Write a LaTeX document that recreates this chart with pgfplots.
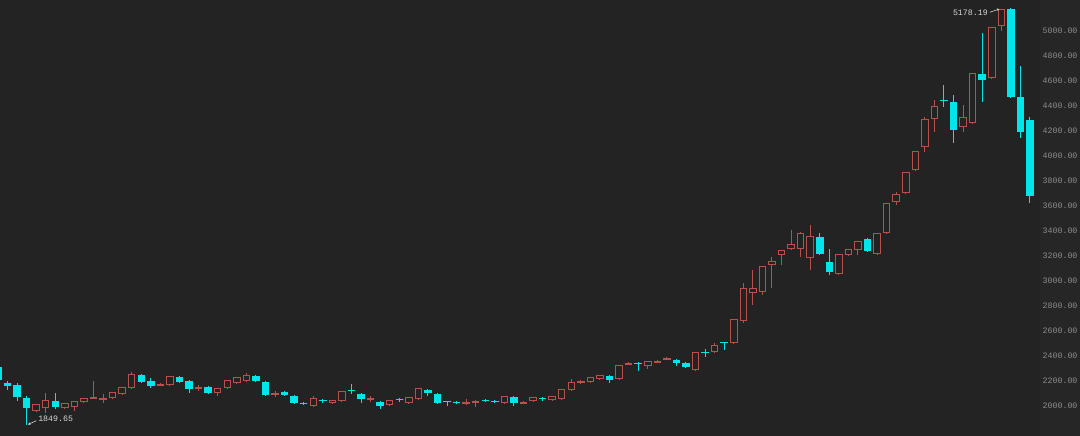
\documentclass[border=0pt]{standalone}
\usepackage{fontspec}
\setmonofont{Liberation Mono}
\usepackage{pgfplots}
\usepackage{pgfplotstable}
\pgfplotsset{compat=1.18}
\usetikzlibrary{arrows.meta}

\definecolor{bgmain}{RGB}{35,35,35}
\definecolor{bgside}{RGB}{38,38,38}
\definecolor{candred}{RGB}{184,80,76}
\definecolor{candcyan}{RGB}{0,230,235}
\definecolor{ticktxt}{RGB}{140,140,140}
\definecolor{annot}{RGB}{215,215,215}

% rising days: x  body-low  body-high  low  high
\pgfplotstableread{
x blo bhi lo hi
4 1960 2008 1952 2016
5 1984 2040 1944 2104
7 1984 2016 1976 2024
8 1992 2032 1960 2040
9 2032 2056 2024 2064
10 2060 2068 2056 2200
11 2052 2060 2024 2096
12 2064 2104 2056 2112
13 2096 2144 2088 2152
14 2144 2248 2136 2272
17 2164 2172 2160 2180
18 2168 2232 2160 2240
21 2140 2148 2120 2168
23 2104 2136 2080 2144
24 2144 2200 2136 2208
25 2184 2224 2176 2232
26 2200 2240 2192 2264
29 2092 2100 2072 2120
33 2000 2056 1992 2080
35 2024 2040 2016 2048
36 2040 2112 2032 2120
39 2052 2060 2032 2080
41 2008 2040 2000 2048
43 2024 2064 2016 2072
44 2056 2136 2048 2144
49 2020 2028 2008 2056
50 2028 2036 1992 2044
53 2024 2072 2016 2080
55 2020 2028 2012 2036
56 2040 2064 2032 2072
58 2048 2072 2040 2080
59 2056 2128 2048 2136
60 2128 2184 2120 2216
61 2188 2196 2176 2208
62 2192 2224 2184 2232
63 2216 2240 2208 2248
65 2216 2320 2208 2328
66 2332 2340 2328 2348
68 2320 2352 2296 2360
69 2348 2356 2344 2364
70 2372 2380 2368 2392
73 2288 2424 2280 2432
75 2432 2480 2424 2504
77 2504 2688 2496 2696
78 2680 2936 2664 2984
79 2904 2936 2808 3088
80 2912 3112 2888 3120
81 3128 3152 2944 3192
82 3208 3240 3128 3248
83 3256 3288 3248 3408
84 3256 3376 3192 3392
85 3184 3352 3088 3448
88 3056 3208 3048 3216
89 3208 3248 3200 3256
90 3248 3312 3208 3320
92 3216 3376 3208 3384
93 3384 3616 3376 3624
94 3632 3688 3608 3712
95 3704 3864 3696 3872
96 3888 4032 3880 4040
97 4072 4288 4032 4312
98 4296 4392 4192 4448
101 4232 4304 4192 4408
102 4264 4656 4256 4664
104 4624 5024 4616 5032
105 5040 5168 5000 5178.19
}\redtab

% falling days
\pgfplotstableread{
x blo bhi lo hi
0 2208 2312 2192 2328
1 2160 2184 2128 2200
2 2072 2168 2040 2184
3 1984 2064 1849.65 2080
6 1992 2040 1976 2104
15 2192 2248 2184 2256
16 2160 2200 2144 2224
19 2192 2232 2184 2240
20 2136 2200 2104 2208
22 2104 2152 2096 2160
27 2200 2240 2192 2248
28 2088 2192 2080 2200
30 2088 2112 2080 2120
31 2024 2080 2016 2088
32 2016 2024 2008 2032
34 2036 2044 2024 2056
37 2116 2124 2096 2176
38 2056 2096 2024 2104
40 2000 2032 1976 2040
42 2044 2052 2032 2064
45 2104 2128 2080 2136
46 2024 2096 2016 2104
47 2028 2036 2000 2036
48 2020 2028 2012 2036
51 2036 2044 2028 2056
52 2028 2036 2020 2044
54 2024 2072 2000 2080
57 2052 2060 2040 2072
64 2208 2240 2184 2248
67 2332 2340 2280 2352
71 2344 2368 2320 2376
72 2312 2344 2304 2352
74 2420 2428 2392 2456
76 2500 2508 2448 2512
86 3216 3352 3208 3384
87 3072 3152 3048 3256
91 3240 3336 3232 3344
99 4436 4444 4392 4568
100 4208 4432 4104 4488
103 4608 4656 4432 4984
106 4472 5176 4464 5180
107 4192 4472 4144 4720
108 3680 4288 3624 4312
}\cyantab

\begin{document}
\begin{tikzpicture}
\fill[bgmain] (0,0) rectangle (1040bp,436bp);
\fill[bgside] (1040bp,0) rectangle (1080bp,436bp);
\begin{axis}[
  at={(0,0)}, anchor=south west,
  scale only axis,
  width=1040bp, height=436bp,
  xmin=0.215, xmax=109.05,
  ymin=1760, ymax=5248,
  axis line style={draw=none},
  xtick=\empty,
  ytick={2000,2200,...,5000},
  yticklabel pos=right,
  major tick length=0pt,
  /pgf/number format/.cd, fixed, fixed zerofill, precision=2, 1000 sep={}, assume math mode=true,
  /pgfplots/.cd,
  yticklabel style={font=\fontsize{8.3}{10}\selectfont\ttfamily, text=ticktxt, inner sep=2.5bp},
  clip=true,
  candle/.style={draw=none, mark=none, forget plot,
    error bars/.cd, y dir=minus, y explicit, error mark=none},
]
% wicks
\addplot[candle, error bar style={line width=1bp, candred}]
  table[x=x, y=hi, y error minus expr=\thisrow{hi}-\thisrow{lo}] {\redtab};
\addplot[candle, error bar style={line width=1bp, candcyan}]
  table[x=x, y=hi, y error minus expr=\thisrow{hi}-\thisrow{lo}] {\cyantab};
% hollow red bodies: outline then background inside
\addplot[candle, error bar style={line width=7.5bp, candred}]
  table[x=x, y expr=\thisrow{bhi}+4, y error minus expr=\thisrow{bhi}-\thisrow{blo}+8] {\redtab};
\addplot[candle, error bar style={line width=5.5bp, bgmain}]
  table[x=x, y expr=\thisrow{bhi}-4, y error minus expr={max(\thisrow{bhi}-\thisrow{blo}-8,0)}] {\redtab};
% filled cyan bodies
\addplot[candle, error bar style={line width=7.5bp, candcyan}]
  table[x=x, y=bhi, y error minus expr=\thisrow{bhi}-\thisrow{blo}] {\cyantab};
% extreme value notes
\node[anchor=east, text=annot, font=\fontsize{8.3}{10}\selectfont\ttfamily, inner sep=0pt]
  at (axis cs:103.6,5144) {5178.19};
\draw[annot, line width=0.6bp, -{Stealth[length=2.5bp,width=2.5bp]}]
  (axis cs:103.8,5150) -- (axis cs:104.8,5176);
\node[anchor=west, text=annot, font=\fontsize{8.3}{10}\selectfont\ttfamily, inner sep=0pt]
  at (axis cs:4.2,1896) {1849.65};
\draw[annot, line width=0.6bp, -{Stealth[length=2.5bp,width=2.5bp]}]
  (axis cs:4.0,1882) -- (axis cs:3.15,1852);
\end{axis}
\pgfresetboundingbox
\useasboundingbox (0,0) rectangle (1080bp,436bp);
\end{tikzpicture}
\end{document}
